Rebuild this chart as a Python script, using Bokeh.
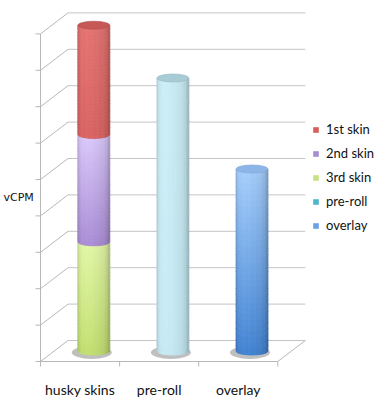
import numpy as np
from bokeh.plotting import figure
from bokeh.models import Range1d, Legend, LegendItem
from bokeh.embed import file_html
from bokeh.resources import INLINE
from bokeh.core.properties import value

# ---- data -------------------------------------------------------------
categories = ["husky skins", "pre-roll", "overlay"]
stack_series = ["3rd skin", "2nd skin", "1st skin"]   # bottom -> top on "husky skins"
stack_values = [3.0, 2.95, 3.0]
single_series = ["pre-roll", "overlay"]
single_values = [7.5, 5.0]
legend_order = ["1st skin", "2nd skin", "3rd skin", "pre-roll", "overlay"]
n_gridlines = 9
axis_title = "vCPM"

# ---- styles -----------------------------------------------------------
# (top colour, bottom colour, cap colour) for each cylinder segment
seg_style = {
    "1st skin": ((224, 114, 112), (214, 100, 98), (198, 88, 86)),
    "2nd skin": ((214, 196, 246), (168, 140, 210), (205, 185, 240)),
    "3rd skin": ((222, 242, 164), (192, 220, 112), (215, 238, 150)),
    "pre-roll": ((200, 234, 243), (196, 231, 241), (168, 204, 214)),
    "overlay": ((162, 202, 247), (66, 130, 208), (140, 182, 232)),
}
swatch = {
    "1st skin": "#d65f5b",
    "2nd skin": "#a68cd2",
    "3rd skin": "#c8e182",
    "pre-roll": "#50b4cd",
    "overlay": "#69a0e6",
}
grid_color = "#c4c4c4"
frame_color = "#b8b8b8"

W, H = 379, 400
PX_X, PX_Y = 79.1, 36.4       # pixels per x unit / per value unit
X0_PX, Y0_PX = 40, 361        # front-left floor corner, in pixels
DX, DY = 27.5 / PX_X, 21 / PX_Y   # depth of the 3-D box, in data units
R = 16 / PX_X                 # cylinder radius (x units)
B = 4 / PX_Y                  # half height of cylinder ellipse (value units)
px_x = lambda n: n / PX_X
px_y = lambda n: n / PX_Y

p = figure(width=W, height=H, output_backend="svg", toolbar_location=None,
           x_range=Range1d(-X0_PX / PX_X, (W - X0_PX) / PX_X),
           y_range=Range1d(-(H - Y0_PX) / PX_Y, Y0_PX / PX_Y),
           min_border=0, outline_line_color=None)
p.axis.visible = False
p.grid.visible = False
p.background_fill_color = "white"
p.border_fill_color = "white"

n_cat = len(categories)
levels = np.arange(n_gridlines + 1)

# back wall gridlines
p.segment(x0=[DX] * len(levels), y0=levels + DY, x1=[n_cat + DX] * len(levels),
          y1=levels + DY, line_color=grid_color, line_width=1)
# side wall diagonals from the front axis to the back wall
p.segment(x0=[0] * len(levels), y0=levels, x1=[DX] * len(levels), y1=levels + DY,
          line_color=frame_color, line_width=1)
# front value axis with ticks
p.segment(x0=[0], y0=[0], x1=[0], y1=[n_gridlines], line_color=frame_color)
p.segment(x0=[-px_x(5)] * len(levels), y0=levels, x1=[0] * len(levels), y1=levels,
          line_color=frame_color)
# floor edges and category ticks
p.segment(x0=[0, n_cat], y0=[0, 0], x1=[n_cat, n_cat + DX], y1=[0, DY],
          line_color=frame_color)
cat_edges = np.arange(n_cat + 1)
p.segment(x0=cat_edges, y0=[0] * len(cat_edges), x1=cat_edges,
          y1=[-px_y(5)] * len(cat_edges), line_color=frame_color)


def lighting(u):
    theta = np.arcsin(np.clip(u, -1, 1))
    return 0.9 + 0.12 * np.cos(theta + 0.5) - 0.12 * np.abs(u) ** 8


def shade(rgb, f):
    r, g, b = (int(np.clip(c * f, 0, 255)) for c in rgb)
    return "#%02x%02x%02x" % (r, g, b)


def cylinder_segment(cx, y_lo, y_hi, style, cols=26, rows=32):
    top_rgb, bot_rgb, _ = style
    xs, ys, colors = [], [], []
    edges = np.linspace(-1, 1, cols + 1)
    for j in range(cols):
        u0, u1 = edges[j], edges[j + 1]
        a0, a1 = B * np.sqrt(1 - u0 ** 2), B * np.sqrt(1 - u1 ** 2)
        f = lighting((u0 + u1) / 2)
        for k in range(rows):
            t0, t1 = k / rows, (k + 1) / rows
            ya = y_lo + (y_hi - y_lo) * t0
            yb = y_lo + (y_hi - y_lo) * t1
            tm = (t0 + t1) / 2
            base = [bc + (tc - bc) * tm for tc, bc in zip(top_rgb, bot_rgb)]
            xs.append([cx + u0 * R, cx + u1 * R, cx + u1 * R, cx + u0 * R])
            ys.append([ya - a0, ya - a1, yb - a1, yb - a0])
            colors.append(shade(base, f))
    p.patches(xs, ys, fill_color=colors, line_color=colors, line_width=0.8)


def cylinder(i, names, vals):
    cx = i + 0.5 + DX / 2
    base = DY / 2
    # soft floor shadow
    p.ellipse(x=[cx - px_x(2)], y=[base - px_y(1.5)], width=2 * R + px_x(8),
              height=2 * B + px_y(5), fill_color="#808080", fill_alpha=0.5,
              line_color=None)
    y = base
    for name, v in zip(names, vals):
        cylinder_segment(cx, y, y + v, seg_style[name])
        y += v
    cap = seg_style[names[-1]][2]
    p.ellipse(x=[cx], y=[y], width=2 * R, height=2 * B,
              fill_color="#%02x%02x%02x" % cap, line_color=shade(cap, 0.9),
              line_width=0.6)


cylinder(0, stack_series, stack_values)
for i, (name, v) in enumerate(zip(single_series, single_values), start=1):
    cylinder(i, [name], [v])

# category labels under the floor
p.text(x=np.arange(n_cat) + 0.5, y=[-px_y(28)] * n_cat, text=categories,
       text_font=value("Lato"), text_font_size="14px", text_color="#111111",
       text_align="center", text_baseline="alphabetic")
# value axis title
p.text(x=[-px_x(37)], y=[px_y(Y0_PX - 197)], text=[axis_title],
       text_font=value("DejaVu Sans"), text_font_size="11px", text_color="#111111",
       text_align="left", text_baseline="middle")

# legend swatches (glyphs kept off the plot area, only shown in the legend)
items = []
for name in legend_order:
    r = p.quad(left=[np.nan], right=[np.nan], top=[np.nan], bottom=[np.nan],
               fill_color=swatch[name], line_color=None)
    items.append(LegendItem(label=name, renderers=[r]))
legend = Legend(items=items, location=(312, 167), padding=0, margin=0,
                spacing=8, glyph_width=7, glyph_height=7, label_standoff=7,
                label_text_font="Lato", label_text_font_size="13px",
                label_text_color="#111111", label_height=16,
                border_line_color=None, background_fill_alpha=0)
p.add_layout(legend, "center")

open("out.html", "w").write(file_html(p, INLINE))
